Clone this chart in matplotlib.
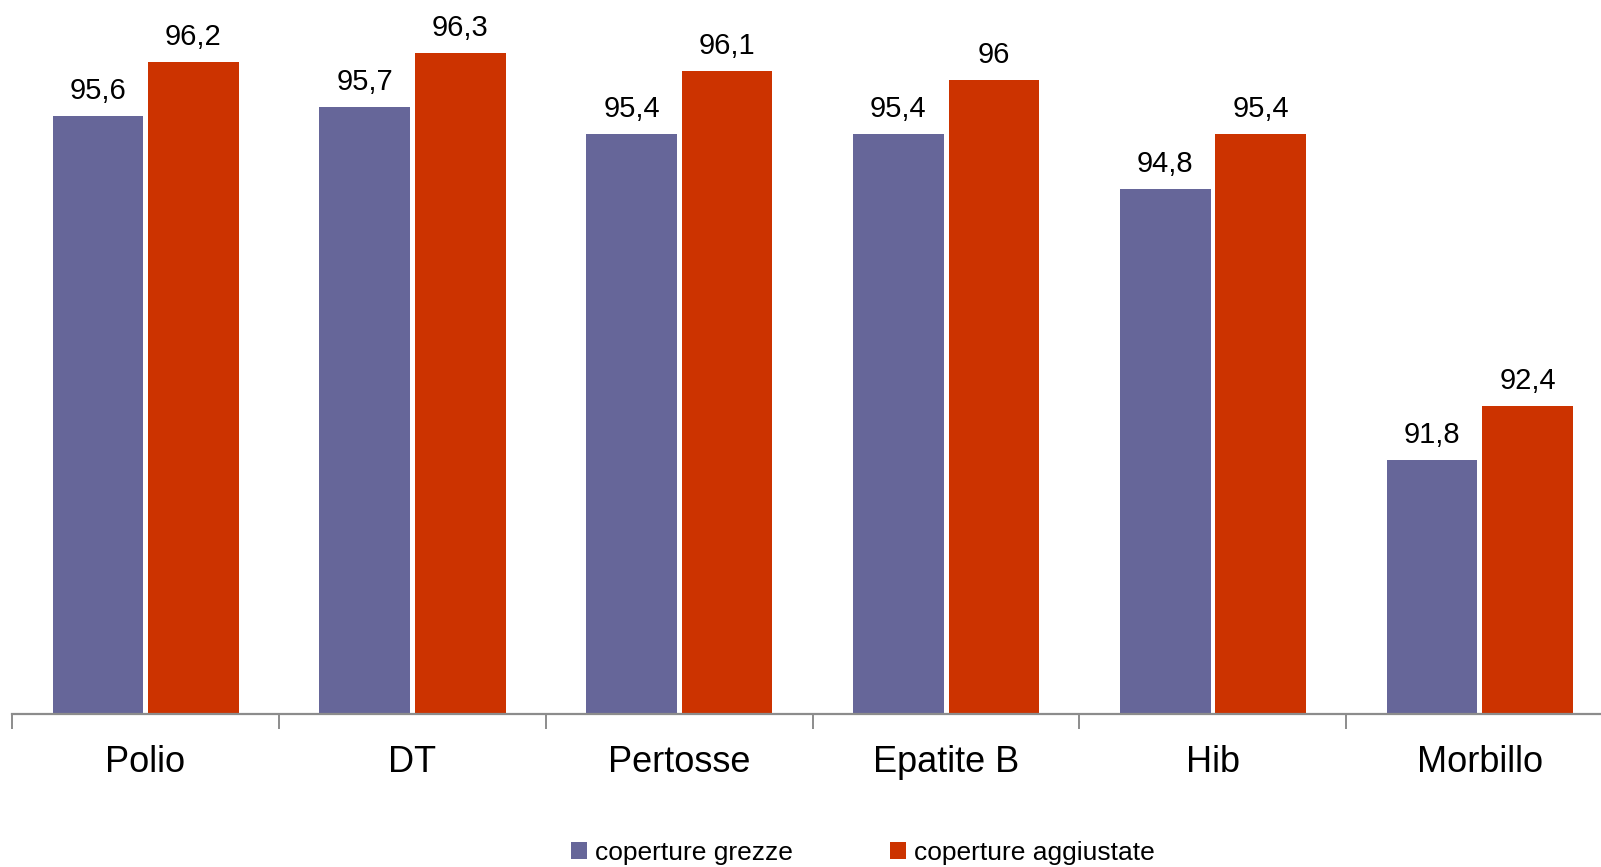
import matplotlib.pyplot as plt
import numpy as np
from matplotlib.patches import Patch

plt.rcParams['font.family'] = ['Liberation Sans', 'DejaVu Sans']

vaccini = ['Polio', 'DT', 'Pertosse', 'Epatite B', 'Hib', 'Morbillo']
grezze = [95.6, 95.7, 95.4, 95.4, 94.8, 91.8]
aggiustate = [96.2, 96.3, 96.1, 96.0, 95.4, 92.4]
nomi_serie = ['coperture grezze', 'coperture aggiustate']
colori = ['#666699', '#CC3300']

def fmt(v):
	s = ('%.1f' % v).replace('.', ',')
	if s.endswith(',0'):
		s = s[:-2]
	return s

fig = plt.figure(figsize=(16.01, 8.67), dpi=100)
ax = fig.add_axes([0.0075, 0.177, 1.0, 0.835])

x = np.arange(len(vaccini))
w = 0.34
b1 = ax.bar(x - 0.178, grezze, w, color=colori[0], bottom=0)
b2 = ax.bar(x + 0.18, aggiustate, w, color=colori[1], bottom=0)

for bars, vals in [(b1, grezze), (b2, aggiustate)]:
	for r, v in zip(bars, vals):
		ax.annotate(fmt(v), (r.get_x() + r.get_width() / 2, v),
			xytext=(0, 11), textcoords='offset pixels',
			ha='center', va='bottom', fontsize=21)

ax.set_ylim(89, 97)
ax.set_xlim(-0.5, 5.5)

for s in ['left', 'right', 'top']:
	ax.spines[s].set_visible(False)
ax.spines['bottom'].set_color('#8c8c8c')
ax.spines['bottom'].set_linewidth(1.6)
ax.set_yticks([])

ax.set_xticks(x)
ax.set_xticklabels(vaccini, fontsize=26)
ax.tick_params(axis='x', which='major', length=0, pad=23)
ax.set_xticks(np.arange(-0.5, 6.0, 1.0), minor=True)
ax.tick_params(axis='x', which='minor', length=11, width=1.4, color='#8c8c8c', direction='out')

handles = [Patch(facecolor=colori[0]), Patch(facecolor=colori[1])]
fig.legend(handles, nomi_serie, loc='center', bbox_to_anchor=(0.539, 0.016),
	ncol=2, frameon=False, fontsize=19, handlelength=0.6, handleheight=0.6,
	handletextpad=0.3, columnspacing=3.7)

plt.savefig('out.png', dpi=100)
